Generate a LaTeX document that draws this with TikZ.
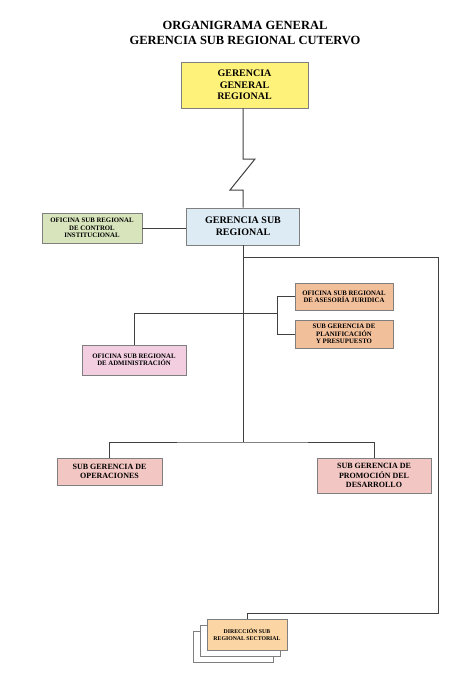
\documentclass[tikz,border=0pt]{standalone}
\usepackage{fontspec}
\setmainfont{Liberation Serif}
\usepackage{xcolor}
\definecolor{ggyellow}{HTML}{FFF27A}
\definecolor{gsblue}{HTML}{DCEBF4}
\definecolor{ctgreen}{HTML}{D8E4BC}
\definecolor{astan}{HTML}{F2BF9B}
\definecolor{adpink}{HTML}{F2CEE0}
\definecolor{sgsalmon}{HTML}{F2C6C2}
\definecolor{drorange}{HTML}{FBD6A4}
\definecolor{boxline}{HTML}{7F7F7F}
\definecolor{linkgray}{HTML}{404040}

\tikzset{
    orgbox/.style={draw=boxline, line width=0.8pt, align=center, inner sep=1pt,
                   font=\bfseries\fontsize{6.8}{7.4}\selectfont},
    shadowbox/.style={draw=boxline, line width=0.6pt, fill=white,
                      minimum width=80pt, minimum height=31pt},
    link/.style={draw=linkgray, line width=1pt}
}

\begin{document}
\begin{tikzpicture}[x=1pt, y=-1pt]
    \useasboundingbox (0,0) rectangle (474,677);

    % Title
    \node[align=center, font=\bfseries\fontsize{12.5}{15}\selectfont]
          (title) at (245,32.5) {ORGANIGRAMA GENERAL\\GERENCIA SUB REGIONAL CUTERVO};

    % Top boxes
    \node[orgbox, fill=ggyellow, minimum width=127pt, minimum height=46pt,
          font=\bfseries\fontsize{10}{11.5}\selectfont]
          (ggr) at (244.5,85) {GERENCIA\\GENERAL\\REGIONAL};
    \node[orgbox, fill=gsblue, minimum width=113pt, minimum height=37pt,
          font=\bfseries\fontsize{10}{12}\selectfont]
          (gsr) at (243,226.5) {GERENCIA SUB\\REGIONAL};
    \node[orgbox, fill=ctgreen, minimum width=100pt, minimum height=30pt]
          (oci) at (92,228) {OFICINA SUB REGIONAL\\DE CONTROL\\INSTITUCIONAL};

    % Advisory and planning
    \node[orgbox, fill=astan, minimum width=98pt, minimum height=27pt]
          (asj) at (344,296.5) {OFICINA SUB REGIONAL\\DE ASESOR\'IA JURIDICA};
    \node[orgbox, fill=astan, minimum width=98pt, minimum height=28pt]
          (spp) at (344,334) {SUB GERENCIA DE\\PLANIFICACI\'ON\\Y PRESUPUESTO};
    \node[orgbox, fill=adpink, minimum width=104pt, minimum height=30pt]
          (adm) at (134,360) {OFICINA SUB REGIONAL\\DE ADMINISTRACI\'ON};

    % Line units
    \node[orgbox, fill=sgsalmon, minimum width=105pt, minimum height=27pt,
          font=\bfseries\fontsize{8}{9.5}\selectfont]
          (sgo) at (109.5,471.5) {SUB GERENCIA DE\\OPERACIONES};
    \node[orgbox, fill=sgsalmon, minimum width=114pt, minimum height=35pt,
          font=\bfseries\fontsize{8}{9.5}\selectfont]
          (sgd) at (374,475.5) {SUB GERENCIA DE\\PROMOCI\'ON DEL\\DESARROLLO};

    % Sectoral offices (stacked)
    \node[shadowbox] (drs3) at (233,646.5) {};
    \node[shadowbox] (drs2) at (240,640.5) {};
    \node[orgbox, fill=drorange, minimum width=80pt, minimum height=31pt,
          font=\bfseries\fontsize{5.8}{6.8}\selectfont]
          (drs) at (247,634.5) {DIRECCI\'ON SUB\\REGIONAL SECTORIAL};

    % Connectors
    \coordinate (zz1) at (243,159);
    \coordinate (zz2) at (255,159);
    \coordinate (zz3) at (230,190);
    \coordinate (zz4) at (243,190);
    \draw[link] (zz1 |- ggr.south) -- (zz1) -- (zz2) -- (zz3) -- (zz4) -- (gsr.north);
    \draw[link] (oci.east) -- (oci.east -| gsr.west);

    \coordinate (trunk) at (243,442);
    \draw[link] (gsr.south) -- (trunk);
    \draw[link] (sgo.north) |- (trunk) -| (sgd.north);

    \coordinate (brk) at (277,313);
    \draw[link] (adm.north) |- (brk);
    \draw[link] (asj.west) -| (brk);
    \draw[link] (spp.west) -| (brk);

    \coordinate (loop) at (243,257);
    \coordinate (loopc) at (438,257);
    \draw[link] (loop) -- (loopc) -- ++(0,356) -| (drs.north);
\end{tikzpicture}
\end{document}
